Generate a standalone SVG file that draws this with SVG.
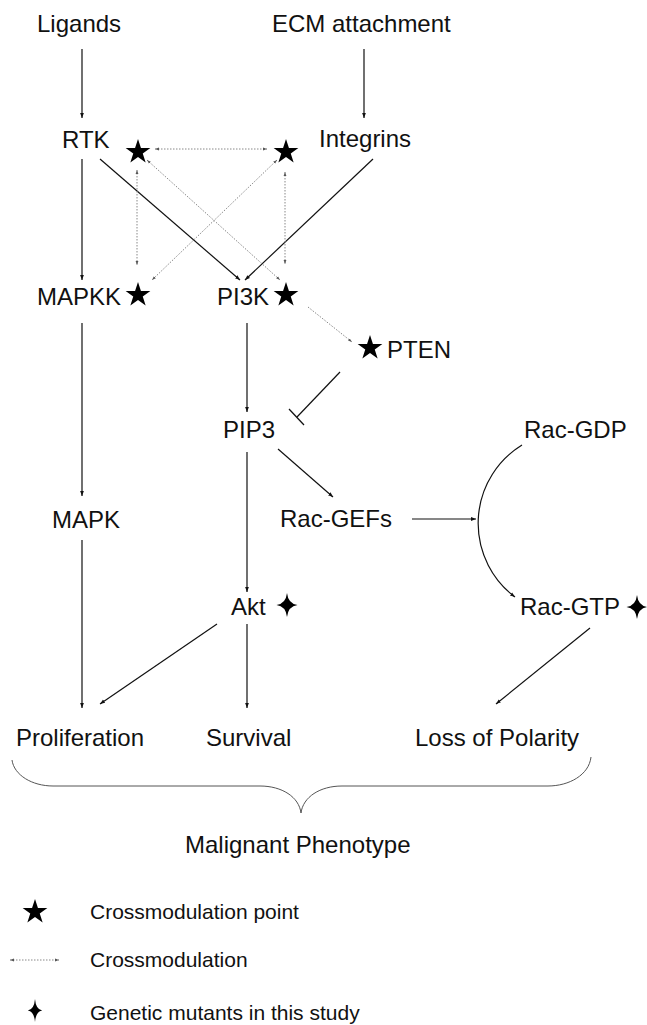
<svg xmlns="http://www.w3.org/2000/svg" width="647" height="1025" viewBox="0 0 647 1025">
<style>
text{font-family:"Liberation Sans",Arial,sans-serif;font-size:24px;fill:#111}
.leg{font-size:21px}
.s{stroke:#111;stroke-width:1.2;fill:none;marker-end:url(#ah)}
.d{stroke:#888;stroke-width:1;stroke-dasharray:1.5 1.5;fill:none;marker-start:url(#dh);marker-end:url(#dh)}
.d1{stroke:#888;stroke-width:1;stroke-dasharray:1.5 1.5;fill:none;marker-end:url(#dh)}
.sym{fill:#000}
</style>
<defs>
<marker id="ah" markerUnits="userSpaceOnUse" markerWidth="5" markerHeight="5" refX="5" refY="2.5" orient="auto"><path d="M0,0.6 L5,2.5 L0,4.4 z" fill="#111"/></marker>
<marker id="dh" markerUnits="userSpaceOnUse" markerWidth="4" markerHeight="4" refX="4" refY="2" orient="auto-start-reverse"><path d="M0,0.6 L4,2 L0,3.4 z" fill="#555"/></marker>
<path id="star" d="M0,-13 L2.94,-4.05 L12.36,-4.02 L4.76,1.55 L7.64,10.52 L0,5 L-7.64,10.52 L-4.76,1.55 L-12.36,-4.02 L-2.94,-4.05 Z"/>
<path id="cross" d="M0,-12 Q1.2,-1.2 10.5,0 Q1.2,1.2 0,12 Q-1.2,1.2 -10.5,0 Q-1.2,-1.2 0,-12 Z"/>
</defs>

<g id="connectors">
<line class="s" x1="82" y1="49" x2="82" y2="118"/>
<line class="s" x1="364" y1="49" x2="364" y2="118"/>
<line class="s" x1="82" y1="159" x2="82" y2="280"/>
<line class="s" x1="100" y1="159" x2="240" y2="280"/>
<line class="s" x1="373" y1="159" x2="245" y2="280"/>
<line class="s" x1="82" y1="323" x2="82" y2="496"/>
<line class="s" x1="247" y1="323" x2="247" y2="412"/>
<line stroke="#111" stroke-width="1.2" x1="340" y1="372" x2="297" y2="417"/>
<line stroke="#111" stroke-width="1.2" x1="289" y1="409" x2="304" y2="425"/>
<line class="s" x1="247" y1="452" x2="247" y2="592"/>
<line class="s" x1="278" y1="449" x2="333" y2="497"/>
<line class="s" x1="412" y1="519" x2="476" y2="519"/>
<path class="s" d="M522,445 A92,92 0 0 0 515,597"/>
<line class="s" x1="82" y1="540" x2="82" y2="708"/>
<line class="s" x1="217" y1="624" x2="100" y2="704"/>
<line class="s" x1="247" y1="624" x2="247" y2="708"/>
<line class="s" x1="590" y1="628" x2="496" y2="704"/>
<line class="d" x1="155" y1="149" x2="267" y2="149"/>
<line class="d" x1="137" y1="170" x2="137" y2="265"/>
<line class="d" x1="285" y1="172" x2="285" y2="264"/>
<line class="d" x1="277" y1="160" x2="152" y2="280"/>
<line class="d" x1="147" y1="160" x2="280" y2="280"/>
<line class="d1" x1="308" y1="307" x2="352" y2="342"/>
<path id="brace" d="M12,760 C14,775 32,786 53,786 L260,786 C282,786 299,797 301,813 C303,797 320,786 342,786 L548,786 C569,786 589,775 591,757" fill="none" stroke="#555" stroke-width="1"/>
</g>

<g id="ligands"><text x="37" y="32">Ligands</text></g>
<g id="ecm"><text x="272" y="32">ECM attachment</text></g>
<g id="rtk"><text x="62" y="148">RTK</text><use href="#star" class="sym" x="138" y="152"/></g>
<g id="integrins"><text x="319" y="147">Integrins</text><use href="#star" class="sym" x="286" y="152"/></g>
<g id="mapkk"><text x="37" y="305">MAPKK</text><use href="#star" class="sym" x="138" y="295"/></g>
<g id="pi3k"><text x="217" y="305">PI3K</text><use href="#star" class="sym" x="286" y="295"/></g>
<g id="pten"><use href="#star" class="sym" x="370" y="348"/><text x="387" y="358">PTEN</text></g>
<g id="pip3"><text x="223" y="438">PIP3</text></g>
<g id="racgdp"><text x="524" y="438">Rac-GDP</text></g>
<g id="mapk"><text x="52" y="528">MAPK</text></g>
<g id="racgefs"><text x="280" y="527">Rac-GEFs</text></g>
<g id="akt"><text x="231" y="615">Akt</text><use href="#cross" class="sym" x="287" y="605"/></g>
<g id="racgtp"><text x="520" y="615">Rac-GTP</text><use href="#cross" class="sym" x="637" y="607"/></g>
<g id="proliferation"><text x="16" y="746">Proliferation</text></g>
<g id="survival"><text x="206" y="746">Survival</text></g>
<g id="loss"><text x="415" y="746">Loss of Polarity</text></g>
<g id="malignant"><text x="185" y="853">Malignant Phenotype</text></g>

<g id="legend">
<use href="#star" class="sym" x="35" y="912"/>
<text class="leg" x="90" y="919">Crossmodulation point</text>
<line class="d" x1="10" y1="960" x2="59" y2="960"/>
<text class="leg" x="90" y="967">Crossmodulation</text>
<g transform="translate(35,1010.5) scale(0.68,0.96)"><use href="#cross" class="sym"/></g>
<text class="leg" x="90" y="1020">Genetic mutants in this study</text>
</g>
</svg>
